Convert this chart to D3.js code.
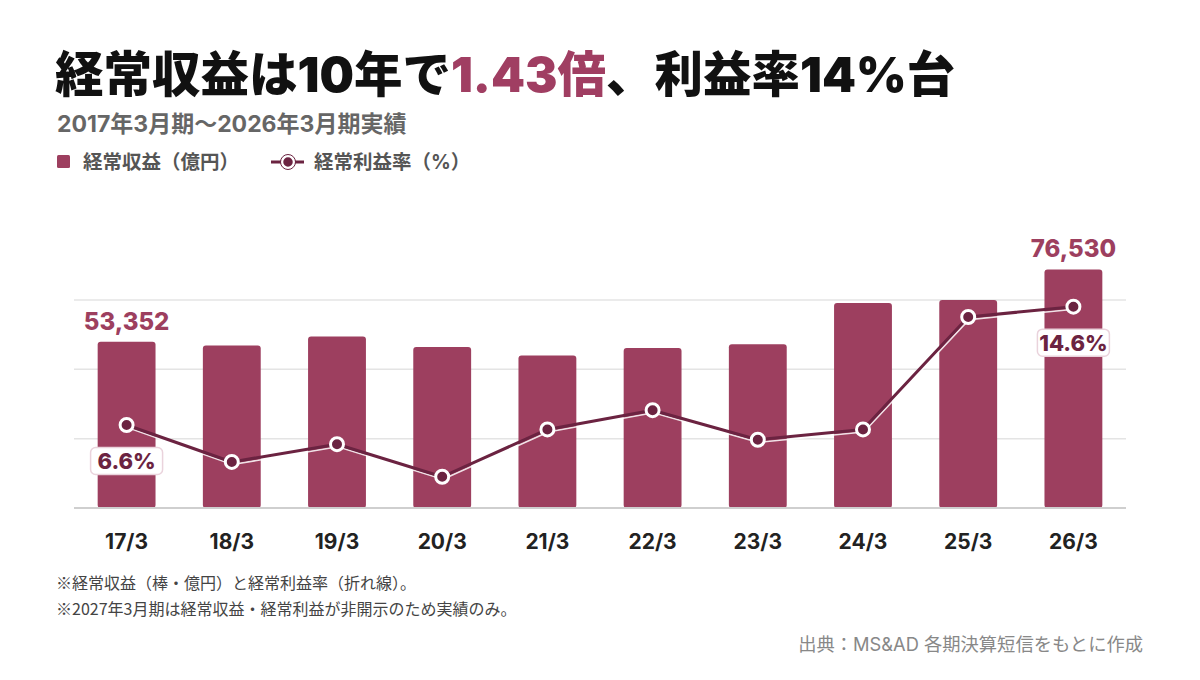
<!DOCTYPE html>
<html lang="ja">
  <head>
    <meta charset="utf-8">
    <title>経常収益と経常利益率</title>
    <script src="https://cdn.jsdelivr.net/npm/d3@7"></script>
    <style>
      body {
        margin: 0;
        background: #fff;
        font-family: Inter, "Noto Sans CJK JP", sans-serif;
      }
      svg text {
        font-family: Inter, "Noto Sans CJK JP", sans-serif;
      }
      svg text.cjk {
        font-family: "Noto Sans CJK JP", sans-serif;
      }
      .grid line {
        stroke: #e4e4e4;
        stroke-width: 1.5px;
      }
      .baseline {
        stroke: #cfcfcf;
        stroke-width: 2px;
      }
      .xlabel {
        font-size: 21px;
        font-weight: 700;
        fill: #222;
      }
    </style>
  </head>
  <body>
    <svg id="chart"></svg>

    <script>
      // ---- data ----
      var categories = ["17/3", "18/3", "19/3", "20/3", "21/3", "22/3", "23/3", "24/3", "25/3", "26/3"];
      var revenue = [53352, 52100, 54990, 51650, 48890, 51330, 52520, 65770, 66730, 76530];
      var margin = [6.6, 4.1, 5.3, 3.1, 6.3, 7.6, 5.6, 6.3, 13.9, 14.6];
      var gridValues = [0, 22250, 44500, 66750];
      var labelled = [0, 9];

      var width = 1200,
          height = 680;

      var barColor = "#9d3f5f",
          lineColor = "#6b2341";

      var svg = d3.select("#chart")
          .attr("width", width)
          .attr("height", height);

      // ---- scales ----
      var x = d3.scaleBand()
          .domain(categories)
          .range([74, 1126])
          .paddingInner(0.45)
          .paddingOuter(0.225);

      var y = d3.scaleLinear()
          .domain([0, 80000])
          .range([508, 508 - 80000 * 0.003117]);

      var y2 = d3.scaleLinear()
          .domain([0, 16])
          .range([522.6, 522.6 - 16 * 14.79]);

      // ---- title block ----
      var title = svg.append("text")
          .attr("x", 55)
          .attr("y", 92)
          .style("font-size", "48.5px")
          .style("font-weight", 900)
          .style("fill", "#111");
      title.append("tspan").text("経常収益は10年で");
      title.append("tspan").style("fill", "#a03e62").text("1.43倍");
      title.append("tspan").text("、利益率14%台");

      svg.append("text")
          .attr("x", 57)
          .attr("y", 132)
          .style("font-size", "23px")
          .style("font-weight", 700)
          .style("fill", "#666")
          .text("2017年3月期〜2026年3月期実績");

      // legend
      var legend = svg.append("g");
      legend.append("rect")
          .attr("x", 57).attr("y", 155)
          .attr("width", 13).attr("height", 13)
          .attr("rx", 1.5)
          .attr("fill", barColor);
      legend.append("text")
          .attr("x", 83).attr("y", 169)
          .style("font-size", "19.5px").style("font-weight", 700).style("fill", "#555")
          .text("経常収益（億円）");
      legend.append("line")
          .attr("x1", 271).attr("x2", 304).attr("y1", 162).attr("y2", 162)
          .attr("stroke", lineColor).attr("stroke-width", 3);
      legend.append("circle")
          .attr("cx", 288).attr("cy", 162).attr("r", 6)
          .attr("fill", lineColor).attr("stroke", "#fff").attr("stroke-width", 2.5);
      legend.append("circle")
          .attr("cx", 288).attr("cy", 162).attr("r", 7.5)
          .attr("fill", "none").attr("stroke", lineColor).attr("stroke-width", 1);
      legend.append("text")
          .attr("x", 314).attr("y", 169)
          .style("font-size", "19.5px").style("font-weight", 700).style("fill", "#555")
          .text("経常利益率（%）");

      // ---- grid ----
      svg.append("g")
          .attr("class", "grid")
          .selectAll("line")
          .data(gridValues.slice(1))
          .join("line")
          .attr("x1", 74).attr("x2", 1126)
          .attr("y1", function(d) { return y(d); })
          .attr("y2", function(d) { return y(d); });

      // ---- bars ----
      svg.append("g")
          .selectAll("rect")
          .data(revenue)
          .join("rect")
          .attr("x", function(d, i) { return x(categories[i]); })
          .attr("width", x.bandwidth())
          .attr("y", function(d) { return y(d); })
          .attr("height", function(d) { return y(0) - y(d); })
          .attr("rx", 3)
          .attr("fill", barColor);

      svg.append("line")
          .attr("class", "baseline")
          .attr("x1", 74).attr("x2", 1126)
          .attr("y1", y(0)).attr("y2", y(0));

      // bar value labels (first and last)
      svg.append("g")
          .selectAll("text")
          .data(labelled)
          .join("text")
          .attr("x", function(i) { return x(categories[i]) + x.bandwidth() / 2; })
          .attr("y", function(i) { return y(revenue[i]) - 12; })
          .attr("text-anchor", "middle")
          .style("font-size", "24px")
          .style("font-weight", 800)
          .style("fill", barColor)
          .text(function(i) { return d3.format(",")(revenue[i]); });

      // ---- line ----
      var cx = function(i) { return x(categories[i]) + x.bandwidth() / 2; };
      var line = d3.line()
          .x(function(d, i) { return cx(i); })
          .y(function(d) { return y2(d); });

      // thin light edge just under the line
      svg.append("path")
          .datum(margin)
          .attr("d", line)
          .attr("transform", "translate(0.8,2.6)")
          .attr("fill", "none")
          .attr("stroke", "#fff")
          .attr("stroke-opacity", 0.85)
          .attr("stroke-width", 1.6)
          .attr("stroke-linejoin", "round");

      svg.append("path")
          .datum(margin)
          .attr("d", line)
          .attr("fill", "none")
          .attr("stroke", lineColor)
          .attr("stroke-width", 3)
          .attr("stroke-linejoin", "round");

      svg.append("g")
          .selectAll("circle")
          .data(margin)
          .join("circle")
          .attr("cx", function(d, i) { return cx(i); })
          .attr("cy", function(d) { return y2(d); })
          .attr("r", 6.5)
          .attr("fill", lineColor)
          .attr("stroke", "#fff")
          .attr("stroke-width", 3);

      // percent labels (first and last)
      var pl = svg.append("g")
          .selectAll("g")
          .data(labelled)
          .join("g")
          .attr("transform", function(i) {
            return "translate(" + cx(i) + "," + (y2(margin[i]) + 36) + ")";
          });
      pl.append("rect")
          .attr("x", -36).attr("y", -13.5)
          .attr("width", 72).attr("height", 27)
          .attr("rx", 5)
          .attr("fill", "#fff")
          .attr("stroke", "#ead3dc")
          .attr("stroke-width", 1.5);
      pl.append("text")
          .attr("text-anchor", "middle")
          .attr("y", 8.5)
          .style("font-size", "22px")
          .style("font-weight", 800)
          .style("fill", lineColor)
          .text(function(i) { return margin[i].toFixed(1) + "%"; });

      // ---- x labels ----
      svg.append("g")
          .selectAll("text")
          .data(categories)
          .join("text")
          .attr("class", "xlabel")
          .attr("x", function(d) { return x(d) + x.bandwidth() / 2; })
          .attr("y", 549)
          .attr("text-anchor", "middle")
          .text(function(d) { return d; });

      // ---- notes ----
      var notes = ["※経常収益（棒・億円）と経常利益率（折れ線）。",
                   "※2027年3月期は経常収益・経常利益が非開示のため実績のみ。"];
      svg.append("g")
          .selectAll("text")
          .data(notes)
          .join("text")
          .attr("class", "cjk")
          .attr("x", 56)
          .attr("y", function(d, i) { return 589 + i * 26; })
          .style("font-size", "16px")
          .style("fill", "#444")
          .text(function(d) { return d; });

      svg.append("text")
          .attr("x", 1143)
          .attr("y", 651)
          .attr("text-anchor", "end")
          .style("font-size", "18.3px")
          .style("fill", "#888")
          .text("出典：MS&AD 各期決算短信をもとに作成");
    </script>
  </body>
</html>
